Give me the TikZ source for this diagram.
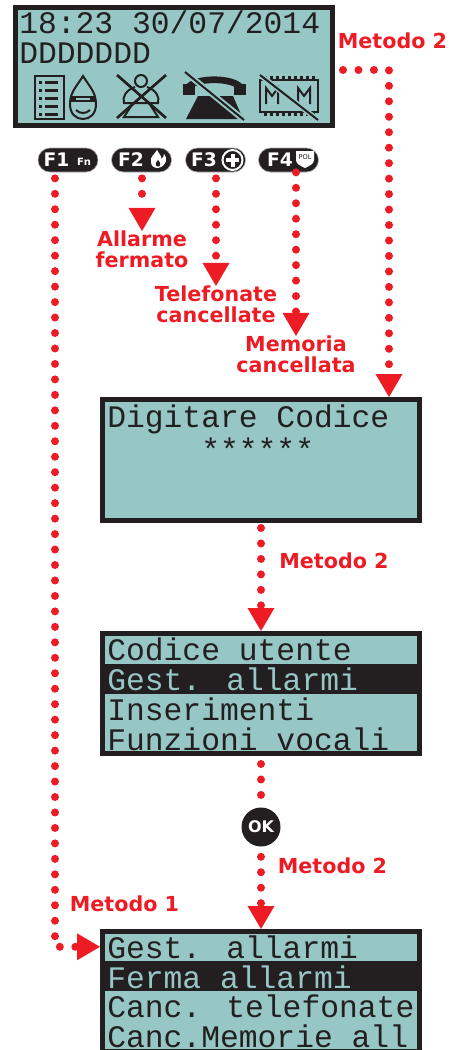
\documentclass[tikz,border=0pt]{standalone}
\usepackage{fontspec}
\setmainfont{DejaVu Sans}
\newfontfamily\lcdfont{Liberation Mono}
\usetikzlibrary{arrows.meta}
\definecolor{lcdteal}{RGB}{150,199,197}
\definecolor{lcdblack}{RGB}{35,31,32}
\definecolor{flowred}{RGB}{237,28,36}
\begin{document}
\begin{tikzpicture}[x=0.75pt,y=-0.75pt]
        \tikzset{
          lcd/.style={draw=lcdblack,fill=lcdteal,line width=3.75pt,minimum width=237.75pt,inner sep=0pt},
          lcdtext/.style={font=\lcdfont\fontsize{23.5}{28}\selectfont,text=lcdblack,inner sep=0pt,anchor=base west},
          dots/.style={draw=flowred,line width=6pt,line cap=round,dash pattern=on 0pt off 11.6pt},
          flow/.style={dots,-{Triangle[width=20.25pt,length=17.25pt,line width=0pt]}},
          redlabel/.style={font=\bfseries\fontsize{15.5}{15.75}\selectfont,text=flowred,inner sep=0pt,align=center},
          fkey/.style={draw=gray!70,fill=lcdblack,line width=0.5pt,rounded corners=9pt,minimum width=45pt,minimum height=18pt},
          keytext/.style={font=\bfseries\fontsize{14}{14}\selectfont,text=white,inner sep=0pt}
        }
        \useasboundingbox (0,0) rectangle (450,1050);
        \clip (0,0) rectangle (450,1050);
        % display at rest
        \node[lcd,minimum height=88.5pt] (lcd0) at (174,66.5) {};
        \node[lcdtext] (clock) at (19,33) {18:23 30/07/2014};
        \node[lcdtext] (zones) at (19,63) {DDDDDDD};
        \begin{scope}[lcdblack,line width=1.5pt]
          \draw (35,76) rectangle (64,119);
          \foreach \y in {82,90,98,106,114} {
            \fill (39,\y-1.5) rectangle (42,\y+1.5);
            \fill (45,\y-1.5) rectangle (58,\y+1.5);
          }
          \draw (83,76) .. controls (77,86) and (70,92) .. (70,104) .. controls (70,114) and (76,119) .. (83,119) .. controls (90,119) and (96,114) .. (96,104) .. controls (96,92) and (89,86) .. (83,76) -- cycle;
          \fill (71,96) rectangle (95,102);
          \fill[lcdteal] (76,98) rectangle (90,100);
          \draw (76,110) .. controls (80,114) and (86,114) .. (90,110);
          \draw (141,81) circle[radius=4.5pt];
          \draw (135,87) .. controls (126,90) and (122,97) .. (124,103) -- (158,103) .. controls (160,97) and (156,90) .. (147,87);
          \draw (133,103) -- (124,117) -- (158,117) -- (149,103);
          \draw[line width=2pt] (117,75) -- (166,118) (166,75) -- (117,118);
          \draw[line width=5pt] (188,88) .. controls (194,77) and (234,77) .. (241,88);
          \fill (183,84) rectangle (195,95);
          \fill (234,84) rectangle (246,95);
          \fill (186,119) -- (243,119) -- (233,96) -- (198,96) -- cycle;
          \draw[lcdteal,line width=4.5pt] (185,72) -- (244,120);
          \draw (185,72) -- (244,120);
          \draw (260,80) rectangle (318,112);
          \foreach \x in {264,270,...,312} {
            \fill (\x,76) rectangle (\x+3,80);
            \fill (\x,112) rectangle (\x+3,116);
          }
          \draw (266,104) -- (266,88) -- (272,96) -- (278,88) -- (278,104);
          \draw (298,104) -- (298,88) -- (304,96) -- (310,88) -- (310,104);
          \draw[lcdteal,line width=4pt] (260,75) -- (318,120);
          \draw (260,75) -- (318,120);
        \end{scope}
        % function keys
        \node[fkey] (f1) at (68,160) {};
        \node[fkey] (f2) at (141.5,160) {};
        \node[fkey] (f3) at (215.5,160) {};
        \node[fkey] (f4) at (288.5,160) {};
        \node[keytext] (f1t) at (56.5,159.5) {F1};
        \node[keytext,font=\bfseries\fontsize{7.5}{7.5}\selectfont] (f1fn) at (84,162) {Fn};
        \node[keytext] (f2t) at (131,159.5) {F2};
        \node[keytext] (f3t) at (204,159.5) {F3};
        \node[keytext] (f4t) at (280,159.5) {F4};
        \fill[white] (151,162) .. controls (150,156) and (155,154) .. (157,150) .. controls (159,154) and (162,156) .. (161,159) .. controls (163,158) and (164,156) .. (164,154) .. controls (168,158) and (167,166) .. (158,168) .. controls (154,168) and (151,166) .. (151,162) -- cycle;
        \fill[lcdblack] (158,166.5) .. controls (155,166) and (155,163) .. (158,160) .. controls (161,163) and (161,166) .. (158,166.5) -- cycle;
        \draw[white,line width=1.5pt] (232.5,160) circle[radius=7.5pt];
        \draw[white,line width=3pt] (226,160) -- (239,160) (232.5,153.5) -- (232.5,166.5);
        \fill[white] (296,151) -- (314,151) -- (314,160) .. controls (314,164) and (309,166) .. (305,168) .. controls (301,166) and (296,164) .. (296,160) -- cycle;
        \node[font=\fontsize{5}{5}\selectfont,text=lcdblack,inner sep=0pt] (pol) at (305,157) {POL};
        % results of the keys
        \node[redlabel] (stop) at (142,249.7) {Allarme\\fermato};
        \node[redlabel] (callsdel) at (216,304.7) {Telefonate\\cancellate};
        \node[redlabel] (memdel) at (296,354.7) {Memoria\\cancellata};
        % code entry
        \node[lcd,minimum height=90.75pt] (code) at (261,460) {};
        \node[lcdtext] (prompt) at (107,427) {Digitare Codice};
        \node[lcdtext] (pin) at (201,460) {******};
        % user menu
        \node[lcd,minimum height=90pt] (menu) at (261,693.5) {};
        \fill[lcdblack] (105,664) rectangle (418,694);
        \node[lcdtext] (u1) at (107,660) {Codice utente};
        \node[lcdtext,text=lcdteal] (u2) at (107,690) {Gest. allarmi};
        \node[lcdtext] (u3) at (107,720) {Inserimenti};
        \node[lcdtext] (u4) at (107,750) {Funzioni vocali};
        \node[circle,fill=lcdblack,minimum size=29.25pt,inner sep=0pt,text=white,font=\bfseries\fontsize{12}{12}\selectfont] (ok) at (261,827) {OK};
        % alarm menu
        \node[lcd,minimum height=90pt] (alarms) at (261,991.5) {};
        \fill[lcdblack] (105,961) rectangle (418,991);
        \node[lcdtext] (a1) at (107,958) {Gest. allarmi};
        \node[lcdtext,text=lcdteal] (a2) at (107,988) {Ferma allarmi};
        \node[lcdtext] (a3) at (107,1017) {Canc. telefonate};
        \node[lcdtext] (a4) at (107,1047) {Canc.Memorie all};
        % methods
        \node[redlabel,anchor=base] (m2top) at (392.5,48) {Metodo 2};
        \node[redlabel,anchor=base] (m2mid) at (334,568) {Metodo 2};
        \node[redlabel,anchor=base] (m2low) at (332.5,873) {Metodo 2};
        \node[redlabel,anchor=base] (m1) at (124.5,911) {Metodo 1};
        \draw[flow,shorten <=4.5pt] (f2.south -| stop.north) -- (stop.north);
        \draw[flow,shorten <=4.5pt] (f3.south -| callsdel.north) -- (callsdel.north);
        \draw[flow] (f4.south -| memdel.north) -- (memdel.north);
        \draw[flow,shorten <=6pt] ([yshift=-2.6pt]lcd0.east) -| ([xshift=-24.75pt]code.north east);
        \draw[flow,shorten <=3.75pt] (code) -- (menu);
        \draw[dots,shorten <=6pt] (menu) -- (ok);
        \draw[flow,shorten <=7.5pt] (ok) -- (alarms);
        \draw[flow,shorten <=4.5pt] ([xshift=-9.75pt]f1.south) |- (alarms.west |- a1.west);
    \end{tikzpicture}
\end{document}
